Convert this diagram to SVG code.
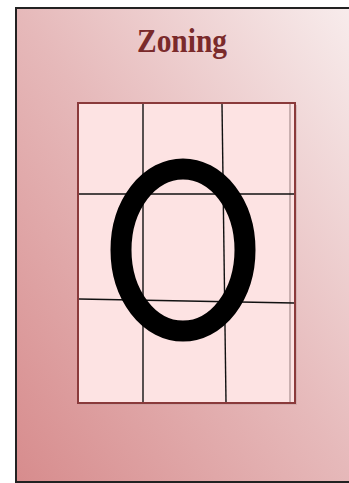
<svg xmlns="http://www.w3.org/2000/svg" width="349" height="483" viewBox="0 0 349 483">
  <defs>
    <linearGradient id="bg" x1="0" y1="1" x2="1" y2="0">
      <stop offset="0" stop-color="#d78c8d"/>
      <stop offset="0.5" stop-color="#e6b9ba"/>
      <stop offset="1" stop-color="#f8eded"/>
    </linearGradient>
    <style>
      .grid { stroke: #111; stroke-width: 1.4; fill: none; }
      .title { font-family: "Liberation Serif", "Times New Roman", serif; font-weight: bold; font-size: 33px; fill: #7a2a2b; }
    </style>
  </defs>
  <rect x="0" y="0" width="349" height="483" fill="#ffffff"/>
  <g id="frame">
    <rect x="16" y="8" width="340" height="474" fill="url(#bg)" stroke="#222" stroke-width="2"/>
  </g>
  <g id="title">
    <text class="title" x="182" y="52" text-anchor="middle" textLength="90" lengthAdjust="spacingAndGlyphs">Zoning</text>
  </g>
  <g id="grid">
    <rect x="79" y="105" width="218" height="300" fill="#bfa0a0" opacity="0.5"/>
    <rect x="78" y="103" width="217" height="300" fill="#fde3e3" stroke="#8a3a3b" stroke-width="2"/>
    <line x1="290" y1="104" x2="290" y2="402" stroke="#c9b0b0" stroke-width="2"/>
    <line x1="143" y1="104" x2="143" y2="402" class="grid"/>
    <line x1="222" y1="104" x2="226" y2="402" class="grid"/>
    <line x1="79" y1="194" x2="294" y2="194" class="grid"/>
    <line x1="79" y1="299" x2="294" y2="303" class="grid"/>
  </g>
  <g id="letter">
    <ellipse cx="183" cy="250" rx="62" ry="81" fill="none" stroke="#000" stroke-width="21"/>
  </g>
</svg>
